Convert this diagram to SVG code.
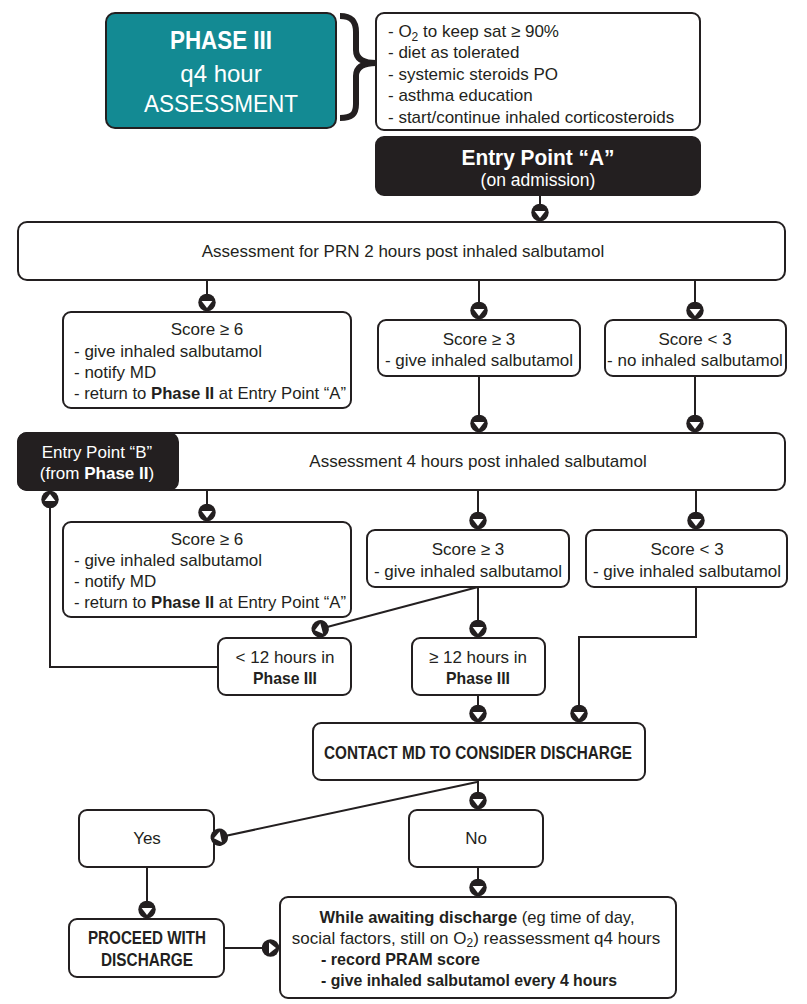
<svg xmlns="http://www.w3.org/2000/svg" width="807" height="1004" viewBox="0 0 807 1004">
<defs>
<style>
.box{fill:#fff;stroke:#231f20;stroke-width:2}
.dark{fill:#231f20;stroke:#231f20;stroke-width:2}
.teal{fill:#138a93;stroke:#231f20;stroke-width:2}
.t{font-family:"Liberation Sans",Arial,sans-serif;font-size:17px;fill:#231f20}
.c{text-anchor:middle}
.w{fill:#fff}
.bc{font-family:"Liberation Sans Narrow","Liberation Sans",Arial,sans-serif;font-weight:bold}
.sub{font-size:12px}
.ln{fill:none;stroke:#231f20;stroke-width:2;marker-end:url(#m)}
</style>
<marker id="m" viewBox="-9 -9 18 18" markerWidth="18" markerHeight="18" markerUnits="userSpaceOnUse" refX="8.5" refY="0" orient="auto">
<circle r="8.7" fill="#231f20"/>
<path d="M-1.5,-5.4 L5.5,0 L-1.5,5.4Z" fill="#fff"/>
</marker>
</defs>
<rect width="807" height="1004" fill="#fff"/>

<g id="phase3">
<rect class="teal" x="106" y="13" width="230" height="115" rx="9"/>
<text class="t c w bc" x="221" y="49" style="font-size:25px" textLength="102" lengthAdjust="spacingAndGlyphs">PHASE III</text>
<text class="t c w" x="221" y="82" style="font-size:24px">q4 hour</text>
<text class="t c w" x="221" y="112" style="font-size:24px" textLength="154" lengthAdjust="spacingAndGlyphs">ASSESSMENT</text>
</g>

<g id="brace">
<path d="M340,16 C352,16 356,22 356,32 L356,50 C356,58 362,63 376,63 C362,63 356,68 356,76 L356,104 C356,114 352,118 340,118" fill="none" stroke="#231f20" stroke-width="6"/>
</g>

<g id="orders">
<rect class="box" x="376" y="13" width="324" height="117" rx="8"/>
<text class="t" x="388" y="37">- O<tspan class="sub" dy="4">2</tspan><tspan dy="-4"> to keep sat ≥ 90%</tspan></text>
<text class="t" x="388" y="58">- diet as tolerated</text>
<text class="t" x="388" y="80">- systemic steroids PO</text>
<text class="t" x="388" y="101">- asthma education</text>
<text class="t" x="388" y="123">- start/continue inhaled corticosteroids</text>
</g>

<g id="entryA">
<rect class="dark" x="376" y="137" width="324" height="58" rx="8"/>
<text class="t c w bc" x="538" y="165" style="font-size:22px" textLength="153" lengthAdjust="spacingAndGlyphs">Entry Point “A”</text>
<text class="t c w" x="538" y="186" style="font-size:17.5px">(on admission)</text>
</g>

<g id="assess2h">
<rect class="box" x="18" y="222" width="767" height="58" rx="9"/>
<text class="t c" x="403" y="257">Assessment for PRN 2 hours post inhaled salbutamol</text>
</g>

<g id="score6a">
<rect class="box" x="63" y="312" width="288" height="96" rx="8"/>
<text class="t c" x="207" y="335">Score ≥ 6</text>
<text class="t" x="74" y="357">- give inhaled salbutamol</text>
<text class="t" x="74" y="378">- notify MD</text>
<text class="t" x="74" y="399" textLength="272" lengthAdjust="spacingAndGlyphs">- return to <tspan class="bc">Phase II</tspan> at Entry Point “A”</text>
</g>

<g id="score3a">
<rect class="box" x="378" y="320" width="202" height="56" rx="8"/>
<text class="t c" x="479" y="345">Score ≥ 3</text>
<text class="t c" x="479" y="366">- give inhaled salbutamol</text>
</g>

<g id="scoreLt3a">
<rect class="box" x="605" y="320" width="181" height="56" rx="8"/>
<text class="t c" x="695" y="345">Score &lt; 3</text>
<text class="t c" x="695" y="366">- no inhaled salbutamol</text>
</g>

<g id="assess4h">
<rect class="box" x="18" y="433" width="767" height="57" rx="9"/>
<text class="t c" x="478" y="467">Assessment 4 hours post inhaled salbutamol</text>
</g>

<g id="entryB">
<rect class="dark" x="18" y="433" width="160" height="57" rx="9"/>
<text class="t c w" x="97" y="458">Entry Point “B”</text>
<text class="t c w" x="97" y="479">(from <tspan class="bc">Phase II</tspan>)</text>
</g>

<g id="score6b">
<rect class="box" x="63" y="522" width="288" height="95" rx="8"/>
<text class="t c" x="207" y="545">Score ≥ 6</text>
<text class="t" x="74" y="566">- give inhaled salbutamol</text>
<text class="t" x="74" y="587">- notify MD</text>
<text class="t" x="74" y="608" textLength="272" lengthAdjust="spacingAndGlyphs">- return to <tspan class="bc">Phase II</tspan> at Entry Point “A”</text>
</g>

<g id="score3b">
<rect class="box" x="367" y="530" width="202" height="57" rx="8"/>
<text class="t c" x="468" y="555">Score ≥ 3</text>
<text class="t c" x="468" y="577">- give inhaled salbutamol</text>
</g>

<g id="scoreLt3b">
<rect class="box" x="586" y="530" width="201" height="57" rx="8"/>
<text class="t c" x="687" y="555">Score &lt; 3</text>
<text class="t c" x="687" y="577">- give inhaled salbutamol</text>
</g>

<g id="lt12">
<rect class="box" x="218" y="638" width="133" height="57" rx="8"/>
<text class="t c" x="285" y="663">&lt; 12 hours in</text>
<text class="t c bc" x="285" y="684" textLength="64" lengthAdjust="spacingAndGlyphs">Phase III</text>
</g>

<g id="ge12">
<rect class="box" x="412" y="638" width="133" height="57" rx="8"/>
<text class="t c" x="478" y="663">≥ 12 hours in</text>
<text class="t c bc" x="478" y="684" textLength="64" lengthAdjust="spacingAndGlyphs">Phase III</text>
</g>

<g id="contact">
<rect class="box" x="313" y="723" width="332" height="57" rx="8"/>
<text class="t c bc" x="478" y="759" style="font-size:18.5px" textLength="308" lengthAdjust="spacingAndGlyphs">CONTACT MD TO CONSIDER DISCHARGE</text>
</g>

<g id="yes">
<rect class="box" x="79" y="810" width="135" height="57" rx="8"/>
<text class="t c" x="147" y="844">Yes</text>
</g>

<g id="no">
<rect class="box" x="409" y="810" width="134" height="57" rx="8"/>
<text class="t c" x="476" y="844">No</text>
</g>

<g id="proceed">
<rect class="box" x="69" y="919" width="155" height="58" rx="8"/>
<text class="t c bc" x="147" y="944" style="font-size:18.5px" textLength="118" lengthAdjust="spacingAndGlyphs">PROCEED WITH</text>
<text class="t c bc" x="147" y="966" style="font-size:18.5px" textLength="92" lengthAdjust="spacingAndGlyphs">DISCHARGE</text>
</g>

<g id="awaiting">
<rect class="box" x="280" y="897" width="396" height="101" rx="8"/>
<text class="t c" x="477" y="923" textLength="315" lengthAdjust="spacingAndGlyphs"><tspan class="bc">While awaiting discharge</tspan> (eg time of day,</text>
<text class="t c" x="476" y="944">social factors, still on O<tspan class="sub" dy="3">2</tspan><tspan dy="-3">) reassessment q4 hours</tspan></text>
<text class="t bc" x="321" y="965" textLength="159" lengthAdjust="spacingAndGlyphs">- record PRAM score</text>
<text class="t bc" x="321" y="986" textLength="296" lengthAdjust="spacingAndGlyphs">- give inhaled salbutamol every 4 hours</text>
</g>

<g id="connectors">
<path class="ln" d="M540,195 V221"/>
<path class="ln" d="M207,280 V311"/>
<path class="ln" d="M479,280 V319"/>
<path class="ln" d="M695,280 V319"/>
<path class="ln" d="M479,376 V432"/>
<path class="ln" d="M695,376 V432"/>
<path class="ln" d="M207,490 V521"/>
<path class="ln" d="M478,490 V529"/>
<path class="ln" d="M696,490 V529"/>
<path class="ln" d="M218,667 H50 V491"/>
<path class="ln" d="M478,587 L312,631"/>
<path class="ln" d="M478,587 V637"/>
<path class="ln" d="M696,587 V637 H579 V722"/>
<path class="ln" d="M478,695 V722"/>
<path class="ln" d="M478,780 V809"/>
<path class="ln" d="M477,782 L211,839"/>
<path class="ln" d="M147,867 V918"/>
<path class="ln" d="M224,948 H279"/>
<path class="ln" d="M478,867 V896"/>
</g>
</svg>
